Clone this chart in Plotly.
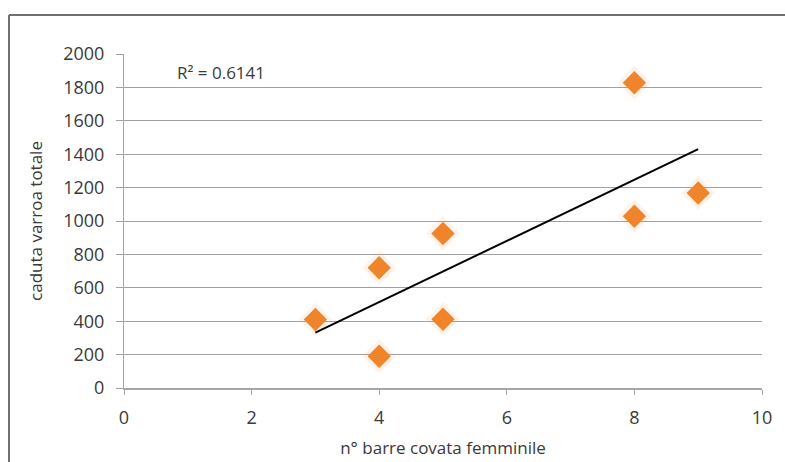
import numpy as np
import plotly.graph_objects as go

# Data
barre = [3, 4, 4, 5, 5, 8, 8, 9]
caduta = [410, 720, 190, 925, 412, 1828, 1028, 1168]
r2_label = "R² = 0.6141"
x_title = "n° barre covata femminile"
y_title = "caduta varroa totale"

# linear trendline computed from data
coef = np.polyfit(barre, caduta, 1)
tx = np.array([min(barre), max(barre)])
ty = np.polyval(coef, tx)

W, H = 785, 462
L, R, T, B = 124, 23, 54, 74
pw, ph = W - L - R, H - T - B

fig = go.Figure()
# soft glow behind markers
fig.add_trace(go.Scatter(x=barre, y=caduta, mode="markers",
                         marker=dict(symbol="diamond", size=26, color="rgba(247,150,70,0.12)", line=dict(width=0)),
                         hoverinfo="skip", showlegend=False))
fig.add_trace(go.Scatter(x=barre, y=caduta, mode="markers",
                         marker=dict(symbol="diamond", size=18, color="#F0842A", line=dict(width=0)),
                         showlegend=False))
fig.add_trace(go.Scatter(x=tx, y=ty, mode="lines", line=dict(color="black", width=2),
                         showlegend=False, hoverinfo="skip"))

font = "Open Sans, Liberation Sans, sans-serif"
fig.update_layout(
    width=W, height=H,
    margin=dict(l=L, r=R, t=T, b=B),
    paper_bgcolor="white", plot_bgcolor="white",
    font=dict(family=font, size=17, color="#3a3a3a"),
    xaxis=dict(range=[0, 10], tickvals=[0, 2, 4, 6, 8, 10], showgrid=False, zeroline=False,
               automargin=False,
               showline=True, linecolor="#a6a6a6", linewidth=1.5, ticks="outside", ticklen=5,
               tickcolor="#a6a6a6", tickfont=dict(size=18), ticklabelstandoff=8,
               title=dict(text=x_title, font=dict(size=17), standoff=14)),
    yaxis=dict(range=[0, 2000], tickvals=list(range(0, 2001, 200)), showgrid=True,
               automargin=False,
               gridcolor="#a0a0a0", gridwidth=1.2, zeroline=False,
               showline=True, linecolor="#a6a6a6", linewidth=1.2, ticks="outside", ticklen=7,
               tickcolor="#a0a0a0", tickfont=dict(size=18), ticklabelstandoff=8,
               title=dict(text=y_title, font=dict(size=17), standoff=16)),
    annotations=[dict(text=r2_label, xref="paper", yref="paper",
                      x=(175 - L) / pw, y=1 - (72 - T) / ph, xanchor="left", yanchor="middle",
                      showarrow=False, font=dict(size=17, color="#3a3a3a"))],
    shapes=[
        dict(type="line", xref="paper", yref="paper",
             x0=(9 - L) / pw, x1=(W + 10 - L) / pw, y0=1 + (T - 15) / ph, y1=1 + (T - 15) / ph,
             line=dict(color="#707070", width=2)),
        dict(type="line", xref="paper", yref="paper",
             x0=(9 - L) / pw, x1=(9 - L) / pw, y0=1 + (T - 15) / ph, y1=-(B + 10) / ph,
             line=dict(color="#707070", width=2)),
    ],
)

fig.write_html("out.html")
